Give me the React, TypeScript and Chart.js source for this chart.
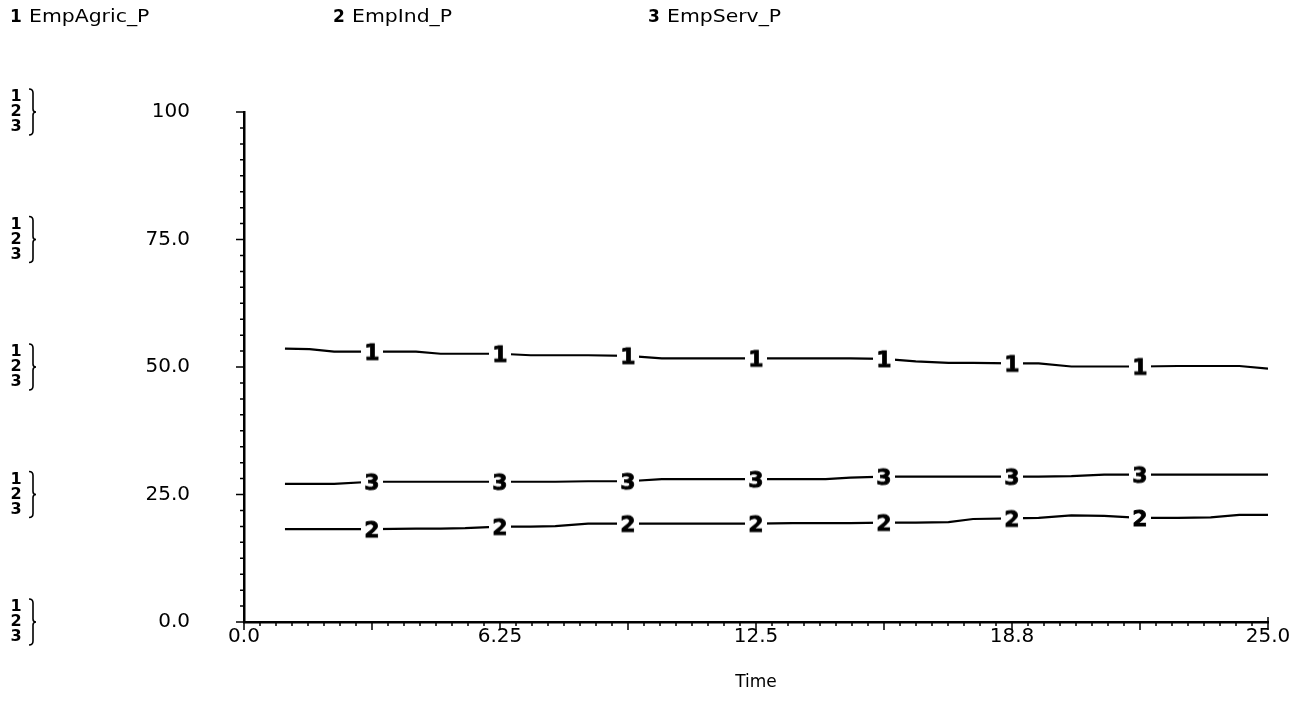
import React, { useEffect, useRef } from 'react';
import { Chart, registerables } from 'chart.js';

Chart.register(...registerables);

// ---------- data ----------
const SERIES_NAMES = ['EmpAgric_P', 'EmpInd_P', 'EmpServ_P'];
const SERIES_TAGS = ['1', '2', '3'];

const TIME = [
  1, 1.6, 2.2, 3.125, 4.2, 4.8, 5.4, 6.25, 7.0, 7.6, 8.4, 9.375, 10.2, 11.0, 11.6, 12.5,
  13.4, 14.2, 14.8, 15.625, 16.4, 17.2, 17.8, 18.75, 19.4, 20.2, 21.0, 21.875, 22.8, 23.6, 24.3, 25,
];

const EMP_AGRIC = [
  53.6, 53.5, 53.0, 53.0, 53.0, 52.6, 52.6, 52.6, 52.3, 52.3, 52.3, 52.2, 51.7, 51.7, 51.7, 51.7,
  51.7, 51.7, 51.7, 51.6, 51.1, 50.8, 50.8, 50.7, 50.7, 50.1, 50.1, 50.1, 50.2, 50.2, 50.2, 49.7,
];

const EMP_IND = [
  18.2, 18.2, 18.2, 18.2, 18.3, 18.3, 18.4, 18.7, 18.7, 18.8, 19.3, 19.3, 19.3, 19.3, 19.3, 19.3,
  19.4, 19.4, 19.4, 19.5, 19.5, 19.6, 20.2, 20.3, 20.4, 20.9, 20.8, 20.4, 20.4, 20.5, 21.0, 21.0,
];

const EMP_SERV = [
  27.1, 27.1, 27.1, 27.5, 27.5, 27.5, 27.5, 27.5, 27.5, 27.5, 27.6, 27.6, 28.0, 28.0, 28.0, 28.0,
  28.0, 28.0, 28.3, 28.5, 28.5, 28.5, 28.5, 28.5, 28.5, 28.6, 28.9, 28.9, 28.9, 28.9, 28.9, 28.9,
];

const MARKER_TIMES = [3.125, 6.25, 9.375, 12.5, 15.625, 18.75, 21.875];

const Y_TICKS = [0, 25, 50, 75, 100];
const Y_TICK_LABELS = ['0.0', '25.0', '50.0', '75.0', '100'];
const X_TICKS = [0, 6.25, 12.5, 18.75, 25];
const X_TICK_LABELS = ['0.0', '6.25', '12.5', '18.8', '25.0'];
const X_TITLE = 'Time';

const X_MIN = 0;
const X_MAX = 25;
const Y_MIN = 0;
const Y_MAX = 100;
const X_MINOR_STEP = 25 / 64;
const Y_MINOR_STEP = 100 / 32;

// ---------- helpers ----------
const FONT = '"DejaVu Sans", "Liberation Sans", sans-serif';
const LEGEND_X = [10, 333, 648];
const LEGEND_Y = 18;

function makeMarker(tag: string): HTMLCanvasElement {
  const c = document.createElement('canvas');
  const w = 22;
  const h = 24;
  c.width = w;
  c.height = h;
  const g = c.getContext('2d') as CanvasRenderingContext2D;
  g.fillStyle = '#ffffff';
  g.fillRect(0, 0, w, h);
  g.fillStyle = '#000000';
  g.strokeStyle = '#000000';
  g.lineWidth = 0.8;
  g.font = `bold 22px ${FONT}`;
  g.textAlign = 'center';
  g.textBaseline = 'alphabetic';
  g.fillText(tag, w / 2, h / 2 + 8);
  g.strokeText(tag, w / 2, h / 2 + 8);
  return c;
}

const decorPlugin = {
  id: 'decor',
  afterDraw(chart: any) {
    const ctx: CanvasRenderingContext2D = chart.ctx;
    const xs = chart.scales.x;
    const ys = chart.scales.y;
    const ax = xs.left;
    const ay = ys.bottom;
    ctx.save();
    ctx.strokeStyle = '#000';
    ctx.lineWidth = 1.5;
    ctx.beginPath();
    // y axis ticks (pointing left)
    const ny = Math.round((Y_MAX - Y_MIN) / Y_MINOR_STEP);
    for (let i = 0; i <= ny; i++) {
      const py = ys.getPixelForValue(Y_MIN + i * Y_MINOR_STEP);
      const len = i % 8 === 0 ? 8 : 4;
      ctx.moveTo(ax - len, py);
      ctx.lineTo(ax, py);
    }
    // x axis ticks (pointing down)
    const nx = Math.round((X_MAX - X_MIN) / X_MINOR_STEP);
    for (let i = 0; i <= nx; i++) {
      const px = xs.getPixelForValue(X_MIN + i * X_MINOR_STEP);
      const len = i % 8 === 0 ? 8 : 4;
      ctx.moveTo(px, ay);
      ctx.lineTo(px, ay + len);
    }
    const pxEnd = xs.getPixelForValue(X_MAX);
    ctx.moveTo(pxEnd, ay);
    ctx.lineTo(pxEnd, ay - 5);
    ctx.stroke();

    // left bracket groups "1 2 3 }"
    ctx.fillStyle = '#000';
    ctx.textAlign = 'center';
    ctx.textBaseline = 'middle';
    ctx.font = `bold 16px ${FONT}`;
    Y_TICKS.forEach((v) => {
      const py = ys.getPixelForValue(v);
      SERIES_TAGS.forEach((t, k) => {
        ctx.fillText(t, 16, py + (k - 1) * 15);
      });
      ctx.lineWidth = 1.6;
      ctx.beginPath();
      const top = py - 23;
      const bot = py + 23;
      const bx = 33;
      ctx.moveTo(bx - 4, top);
      ctx.quadraticCurveTo(bx, top, bx, top + 4);
      ctx.lineTo(bx, py - 3);
      ctx.quadraticCurveTo(bx, py, bx + 3, py);
      ctx.quadraticCurveTo(bx, py, bx, py + 3);
      ctx.lineTo(bx, bot - 4);
      ctx.quadraticCurveTo(bx, bot, bx - 4, bot);
      ctx.stroke();
    });

    // legend
    ctx.textAlign = 'left';
    ctx.textBaseline = 'middle';
    SERIES_NAMES.forEach((name, i) => {
      ctx.font = `bold 17px ${FONT}`;
      ctx.fillText(SERIES_TAGS[i], LEGEND_X[i], LEGEND_Y);
      ctx.save();
      ctx.translate(LEGEND_X[i] + 19, LEGEND_Y);
      ctx.scale(1.2, 1);
      ctx.font = `17px ${FONT}`;
      ctx.fillText(name, 0, 0);
      ctx.restore();
    });
    ctx.restore();
  },
};

export default function App() {
  const canvasRef = useRef<HTMLCanvasElement | null>(null);

  useEffect(() => {
    if (!canvasRef.current) return;
    const seriesValues = [EMP_AGRIC, EMP_IND, EMP_SERV];
    const datasets = SERIES_NAMES.map((name, s) => {
      const marker = makeMarker(SERIES_TAGS[s]);
      return {
        label: name,
        data: TIME.map((t, i) => ({ x: t, y: seriesValues[s][i] })),
        borderColor: '#000000',
        backgroundColor: '#000000',
        borderWidth: 2.2,
        tension: 0,
        fill: false,
        pointStyle: marker,
        pointRadius: (c: any) => (MARKER_TIMES.includes(TIME[c.dataIndex]) ? 8 : 0),
        pointHoverRadius: 0,
      };
    });

    const chart = new Chart(canvasRef.current, {
      type: 'line',
      data: { datasets } as any,
      plugins: [decorPlugin],
      options: {
        animation: false,
        responsive: true,
        maintainAspectRatio: false,
        events: [],
        layout: { padding: { top: 112, right: 36, bottom: 0, left: 0 } },
        plugins: {
          legend: { display: false },
          tooltip: { enabled: false },
          title: { display: false },
        },
        scales: {
          x: {
            type: 'linear',
            min: X_MIN,
            max: X_MAX,
            afterBuildTicks: (scale: any) => {
              scale.ticks = X_TICKS.map((v) => ({ value: v }));
            },
            afterFit: (scale: any) => {
              scale.height = 87;
            },
            ticks: {
              autoSkip: false,
              maxRotation: 0,
              padding: 3,
              color: '#000',
              font: { family: FONT, size: 20 },
              callback: (value: any) => {
                const idx = X_TICKS.indexOf(Number(value));
                return idx >= 0 ? X_TICK_LABELS[idx] : '';
              },
            },
            grid: { display: true, drawOnChartArea: false, drawTicks: false },
            border: { display: true, color: '#000', width: 2.5 },
            title: {
              display: true,
              text: X_TITLE,
              color: '#000',
              font: { family: FONT, size: 17 },
              padding: { top: 0, bottom: 16 },
            },
          },
          y: {
            type: 'linear',
            min: Y_MIN,
            max: Y_MAX,
            afterBuildTicks: (scale: any) => {
              scale.ticks = Y_TICKS.map((v) => ({ value: v }));
            },
            afterFit: (scale: any) => {
              scale.width = 244;
            },
            ticks: {
              autoSkip: false,
              padding: 54,
              color: '#000',
              font: { family: FONT, size: 20 },
              callback: (value: any) => {
                const idx = Y_TICKS.indexOf(Number(value));
                return idx >= 0 ? Y_TICK_LABELS[idx] : '';
              },
            },
            grid: { display: true, drawOnChartArea: false, drawTicks: false },
            border: { display: true, color: '#000', width: 2.5 },
          },
        },
      } as any,
    });
    return () => chart.destroy();
  }, []);

  return (
    <div style={{ position: 'fixed', left: 0, top: 0, width: 1304, height: 709, background: '#fff' }}>
      <canvas ref={canvasRef} />
    </div>
  );
}
